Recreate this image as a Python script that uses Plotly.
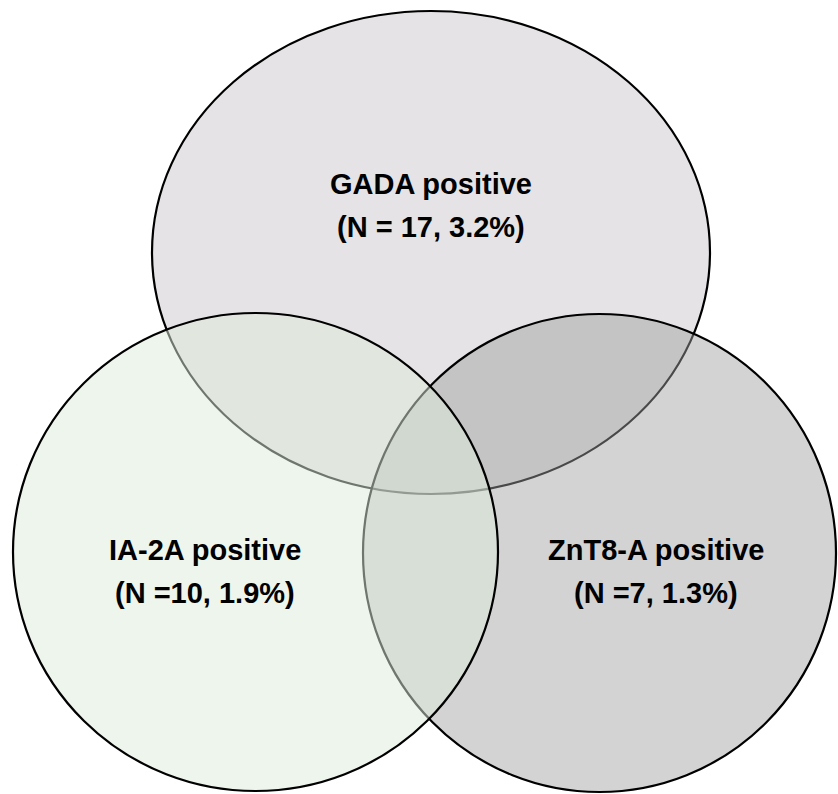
import plotly.graph_objects as go

# ---- data ----
set_names = ["GADA", "IA-2A", "ZnT8-A"]
counts = [17, 10, 7]
percents = [3.2, 1.9, 1.3]
count_seps = [" = ", " =", " ="]

# ---- layout / geometry (pixels, y downwards) ----
W, H = 838, 794
# bounding boxes x0, x1, y0, y1
boxes = {
    "GADA": (152, 710, 11, 494),
    "IA-2A": (13, 498, 313, 791),
    "ZnT8-A": (363, 836, 314, 792),
}
fills = {
    "GADA": "rgba(229,227,229,1)",
    "IA-2A": "rgba(221,235,217,0.5)",
    "ZnT8-A": "rgba(159,159,159,0.46)",
}
draw_order = ["GADA", "ZnT8-A", "IA-2A"]
# label positions (x center, y of first line)
label_pos = {
    "GADA": (431, 184),
    "IA-2A": (205, 550),
    "ZnT8-A": (656, 550),
}
line_gap = 43

fig = go.Figure()
# invisible trace to set up axes
fig.add_trace(go.Scatter(x=[0, W], y=[0, H], mode="markers",
                         marker=dict(opacity=0), hoverinfo="skip", showlegend=False))

for name in draw_order:
    x0, x1, y0, y1 = boxes[name]
    fig.add_shape(type="circle", xref="x", yref="y", x0=x0, x1=x1, y0=y0, y1=y1,
                  fillcolor=fills[name], line=dict(color="black", width=2.2), layer="above")

font = dict(family="Liberation Sans, Arial, sans-serif", size=29, color="black")
for name, n, p, sep in zip(set_names, counts, percents, count_seps):
    cx, cy = label_pos[name]
    fig.add_annotation(x=cx, y=cy, xref="x", yref="y", text=f"<b>{name} positive</b>",
                       showarrow=False, font=font, xanchor="center", yanchor="middle")
    fig.add_annotation(x=cx, y=cy + line_gap, xref="x", yref="y",
                       text=f"<b>(N{sep}{n}, {p}%)</b>",
                       showarrow=False, font=font, xanchor="center", yanchor="middle")

fig.update_xaxes(range=[0, W], visible=False, fixedrange=True)
fig.update_yaxes(range=[H, 0], visible=False, fixedrange=True)
fig.update_layout(width=W, height=H, margin=dict(l=0, r=0, t=0, b=0),
                  paper_bgcolor="white", plot_bgcolor="white", showlegend=False)

fig.write_html("out.html", config={"displayModeBar": False},
               post_script="document.body.style.margin='0';"
                           "document.documentElement.style.overflow='hidden';"
                           "document.body.style.overflow='hidden';")
